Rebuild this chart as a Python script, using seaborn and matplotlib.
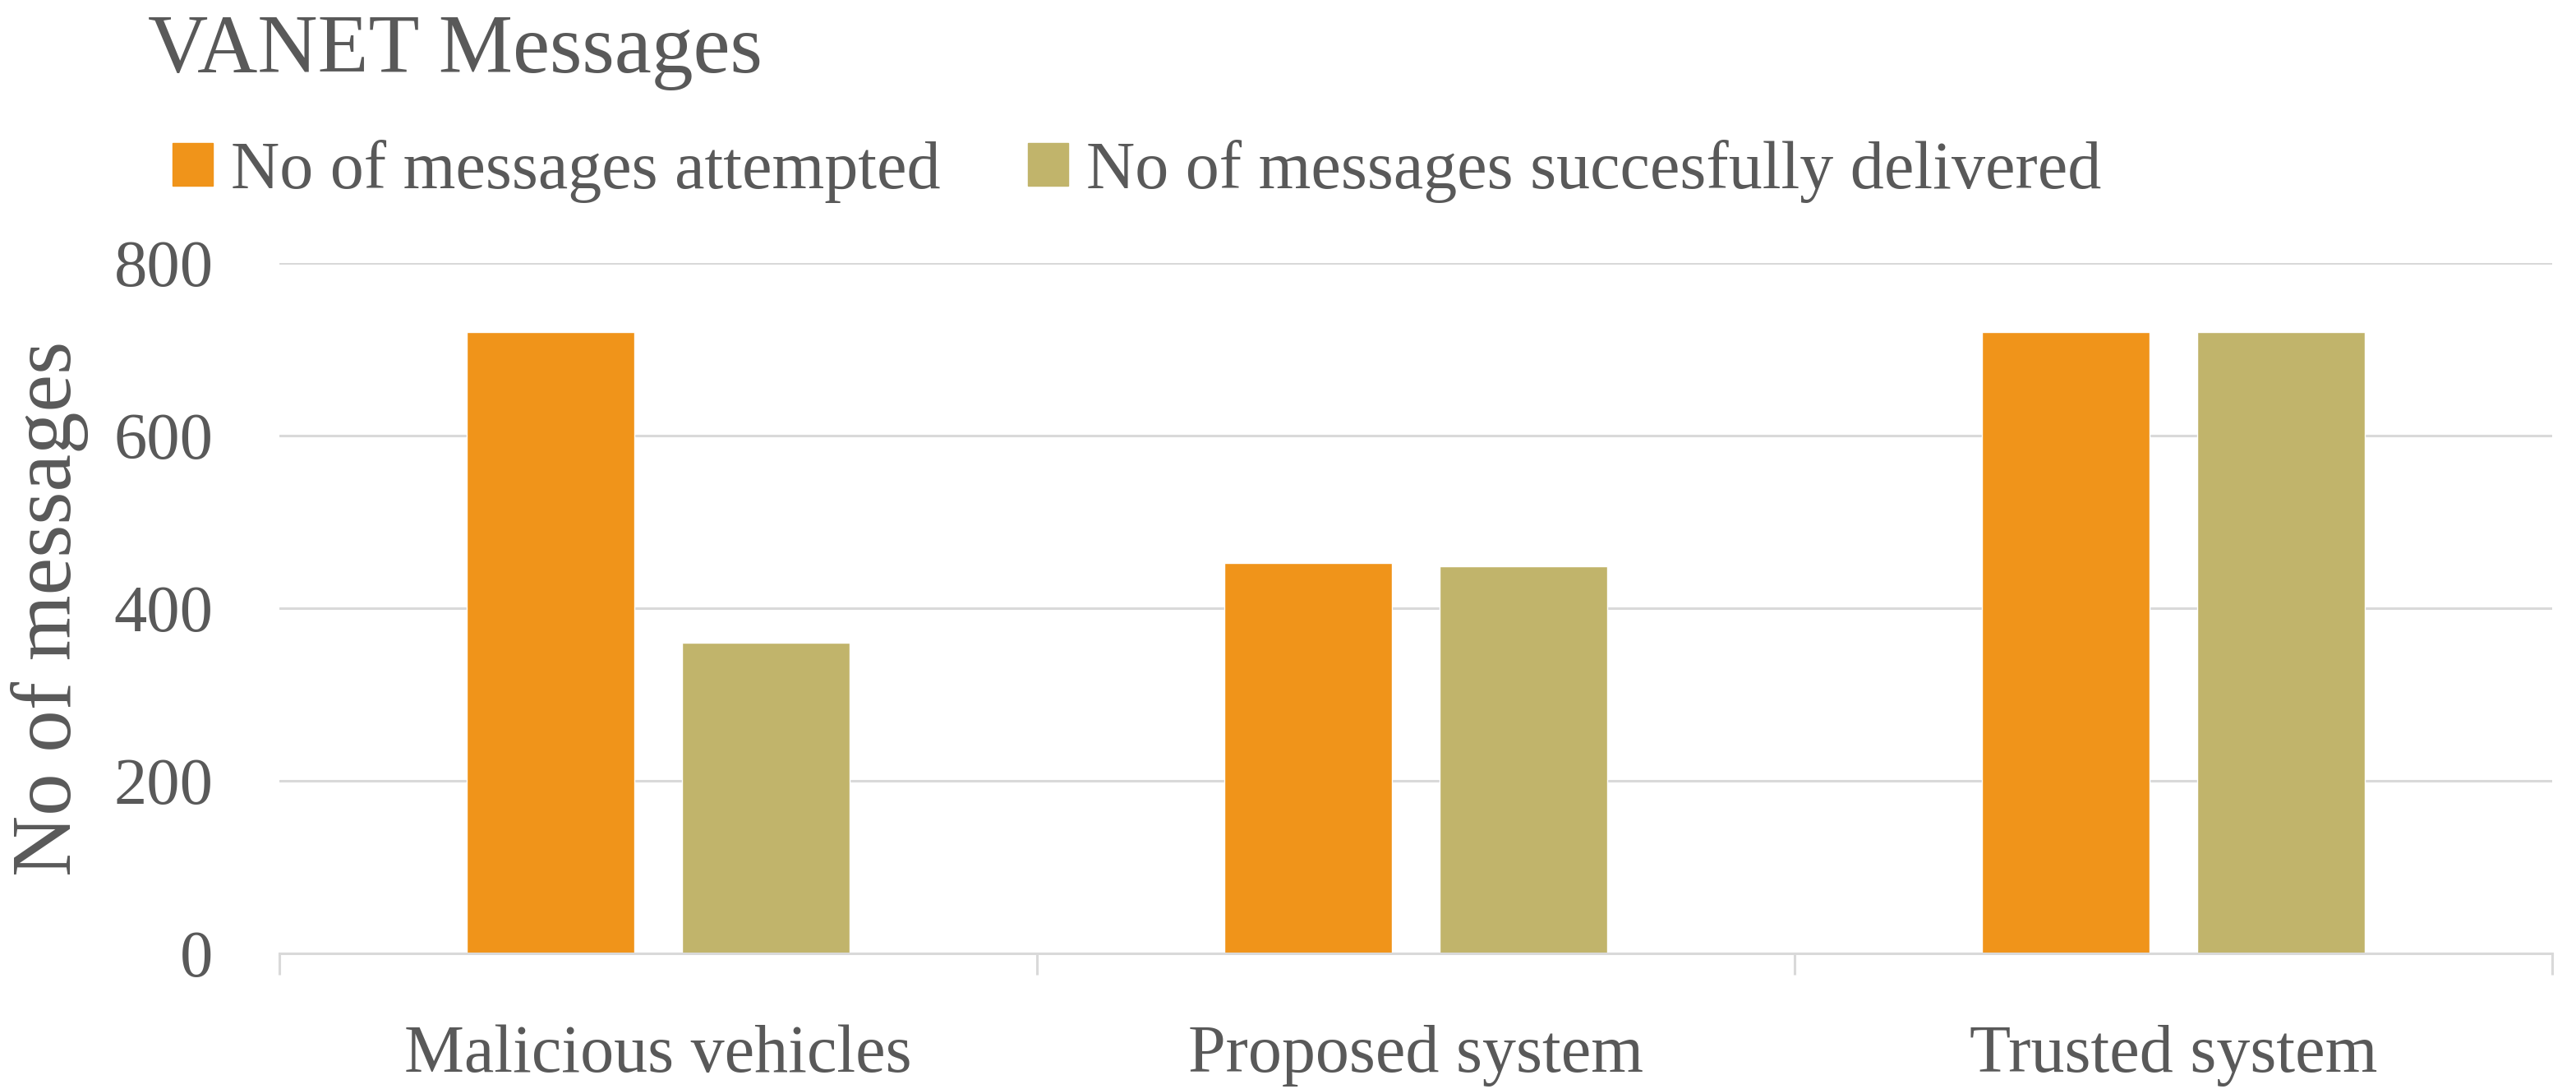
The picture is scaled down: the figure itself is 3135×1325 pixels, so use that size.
import pandas as pd
import matplotlib
matplotlib.use("Agg")
import matplotlib.pyplot as plt
import seaborn as sns

# data
categories = ["Malicious vehicles", "Proposed system", "Trusted system"]
series_names = ["No of messages attempted", "No of messages succesfully delivered"]
attempted = [720, 452, 720]
delivered = [360, 449, 720]
y_ticks = [0, 200, 400, 600, 800]

colors = ["#F0941A", "#C1B46B"]
text_color = "#595959"
grid_color = "#D9D9D9"

df = pd.DataFrame({
    "category": categories * 2,
    "series": [series_names[0]] * 3 + [series_names[1]] * 3,
    "value": attempted + delivered,
})

sns.set_theme(style="white")
plt.rcParams["font.family"] = ["Liberation Serif", "DejaVu Serif"]
plt.rcParams["text.color"] = text_color

fig = plt.figure(figsize=(31.35, 13.25), dpi=100)
ax = fig.add_axes([0.1085, 0.1245, 0.8822, 0.634])

sns.barplot(data=df, x="category", y="value", hue="series", palette=colors,
            width=0.568, gap=0.22, saturation=1, ax=ax, legend=False)

ax.set_ylim(0, 800)
ax.set_xlim(-0.5, 2.5)
ax.set_yticks(y_ticks)
ax.yaxis.grid(True, color=grid_color, linewidth=2.2)
ax.set_axisbelow(True)
for s in ["top", "right", "left"]:
    ax.spines[s].set_visible(False)
ax.spines["bottom"].set_color(grid_color)
ax.spines["bottom"].set_linewidth(2.2)

# category separators below the axis
ax.set_xticks([-0.5, 0.5, 1.5, 2.5], minor=True)
ax.tick_params(axis="x", which="minor", bottom=True, length=19, width=2.2,
               color=grid_color, direction="out")
ax.tick_params(axis="x", which="major", length=0, pad=62, labelsize=59, labelcolor=text_color)
ax.tick_params(axis="y", length=0, pad=58, labelsize=58, labelcolor=text_color)

ax.set_xlabel("")
ax.set_ylabel("No of messages", fontsize=74, color=text_color, labelpad=22)

fig.text(0.0574, 0.9336, "VANET Messages", fontsize=73, color=text_color,
         ha="left", va="baseline")

handles = [plt.Rectangle((0, 0), 1, 1, color=c) for c in colors]
fig.legend(handles, series_names, loc="upper left", bbox_to_anchor=(0.067, 0.872),
           ncol=2, frameon=False, fontsize=59, handlelength=0.6, handleheight=0.6,
           handletextpad=0.27, columnspacing=1.29, borderaxespad=0, borderpad=0,
           labelcolor=text_color)

fig.savefig("out.png", dpi=100)
